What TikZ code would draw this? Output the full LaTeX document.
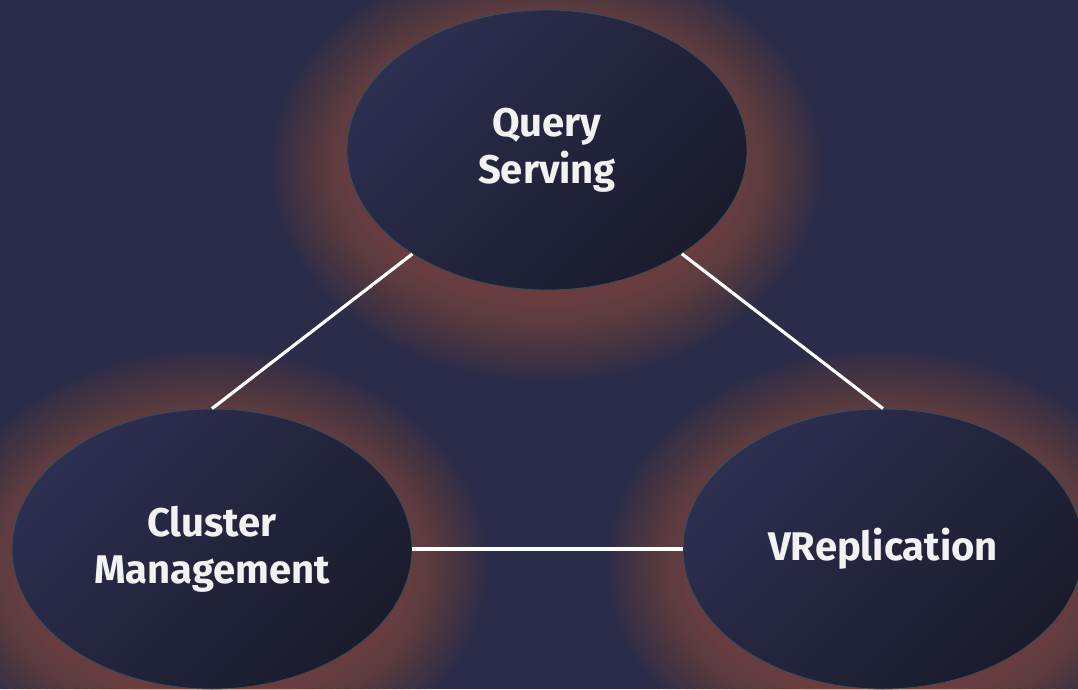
\documentclass[tikz,border=0pt]{standalone}
\usepackage{fontspec}
\setmainfont{Fira Sans}
\usetikzlibrary{shapes.geometric}
\definecolor{bgc}{HTML}{2A2C49}
\definecolor{glowc}{HTML}{C8603F}
\definecolor{ellA}{HTML}{2C2F50}
\definecolor{ellB}{HTML}{1A1B2B}
\definecolor{ellE}{HTML}{3A4E58}
\definecolor{txt}{HTML}{F2F2F2}
\tikzset{
  ellnode/.style={ellipse, minimum width=400pt, minimum height=280pt, inner sep=0pt,
    top color=ellA, bottom color=ellB, shading angle=45, draw=ellE, line width=0.8pt,
    text=txt, align=center, font=\bfseries\fontsize{40}{47}\selectfont},
  conn/.style={draw=white, line width=3.2pt},
  glowlayer/.style={fill=glowc, opacity=0.028}
}
\begin{document}
\begin{tikzpicture}[x=1pt,y=-1pt]
\useasboundingbox (0,0) rectangle (1078,689);
\clip (0,0) rectangle (1078,689);
\fill[bgc] (0,0) rectangle (1078,689);
\foreach \cx/\cy in {547/150, 212/549, 883/549}{
  \foreach \d in {0,4,...,84}{
    \fill[glowlayer] (\cx,\cy+16) ellipse ({192+\d} and {132+\d});
  }
}
\node[ellnode] (q) at (547,150) {Query\\Serving};
\node[ellnode] (c) at (212,549) {Cluster\\Management};
\node[ellnode] (v) at (883,549) {VReplication};
\draw[conn] (q) -- (c.north);
\draw[conn] (q) -- (v.north);
\draw[conn] (c) -- (v);
\end{tikzpicture}
\end{document}
